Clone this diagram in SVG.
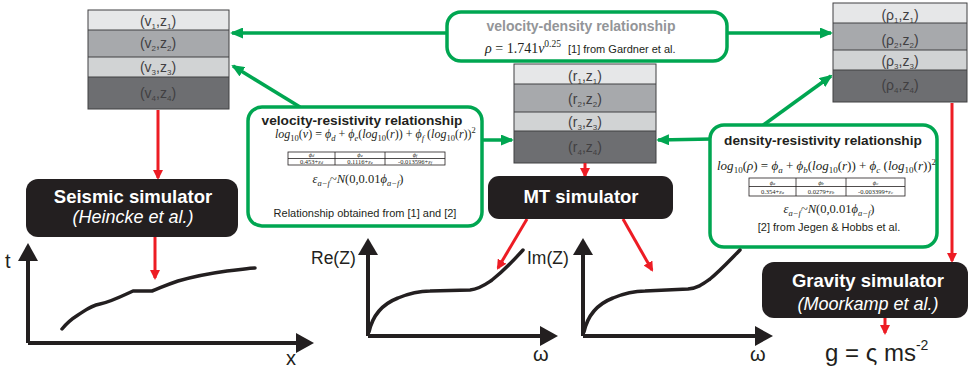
<svg xmlns="http://www.w3.org/2000/svg" width="969" height="370" viewBox="0 0 969 370">
<style>
.sans{font-family:"Liberation Sans",Arial,sans-serif}
.serif{font-family:"Liberation Serif","Times New Roman",serif}
.stk{font-family:"Liberation Sans",Arial,sans-serif;font-size:14px;fill:#414042;text-anchor:middle}
.l1{fill:#e6e7e8}.l2{fill:#a7a9ac}.l3{fill:#d1d3d4}.l4{fill:#6d6e71}
.sep{stroke:#414042;stroke-width:1;fill:none}
.gbox{fill:#fff;stroke:#00a651;stroke-width:3.5}
.sim{fill:#231f20}
.simt{font-family:"Liberation Sans",Arial,sans-serif;fill:#fff;text-anchor:middle}
.g{stroke:#00a651;stroke-width:3.5;fill:none;marker-end:url(#ga)}
.r{stroke:#ed1c24;stroke-width:3;fill:none;marker-end:url(#ra)}
.ax{stroke:#231f20;stroke-width:4;fill:none}
.cv{stroke:#231f20;stroke-width:3.5;fill:none;stroke-linecap:round;stroke-linejoin:round}
.tb{fill:#fff;stroke:#231f20;stroke-width:0.8}
.tt{font-family:"Liberation Serif","Times New Roman",serif;font-size:6.5px;text-anchor:middle;fill:#231f20}
.it{font-style:italic}
</style>
<defs>
<marker id="ga" markerUnits="userSpaceOnUse" markerWidth="13" markerHeight="11" refX="11" refY="5.5" orient="auto"><path d="M0,0 L13,5.5 L0,11 z" fill="#00a651"/></marker>
<marker id="ra" markerUnits="userSpaceOnUse" markerWidth="10" markerHeight="10" refX="8" refY="5" orient="auto"><path d="M0,0 L10,5 L0,10 z" fill="#ed1c24"/></marker>
</defs>

<g id="stack-v">
<rect class="l1" x="88" y="10" width="141" height="20"/>
<rect class="l2" x="88" y="30" width="141" height="27"/>
<rect class="l3" x="88" y="57" width="141" height="20"/>
<rect class="l4" x="88" y="77" width="141" height="32"/>
<rect class="sep" x="88" y="10" width="141" height="99"/>
<path class="sep" d="M88,30H229M88,57H229M88,77H229"/>
<text class="stk" x="158" y="26">(v<tspan font-size="8" dy="3">1</tspan><tspan dy="-3">,z</tspan><tspan font-size="8" dy="3">1</tspan><tspan dy="-3">)</tspan></text>
<text class="stk" x="158" y="48">(v<tspan font-size="8" dy="3">2</tspan><tspan dy="-3">,z</tspan><tspan font-size="8" dy="3">2</tspan><tspan dy="-3">)</tspan></text>
<text class="stk" x="158" y="72">(v<tspan font-size="8" dy="3">3</tspan><tspan dy="-3">,z</tspan><tspan font-size="8" dy="3">3</tspan><tspan dy="-3">)</tspan></text>
<text class="stk" x="158" y="98">(v<tspan font-size="8" dy="3">4</tspan><tspan dy="-3">,z</tspan><tspan font-size="8" dy="3">4</tspan><tspan dy="-3">)</tspan></text>
</g>

<g id="stack-r">
<rect class="l1" x="514" y="64" width="142" height="20"/>
<rect class="l2" x="514" y="84" width="142" height="28"/>
<rect class="l3" x="514" y="112" width="142" height="19"/>
<rect class="l4" x="514" y="131" width="142" height="32"/>
<rect class="sep" x="514" y="64" width="142" height="99"/>
<path class="sep" d="M514,84H656M514,112H656M514,131H656"/>
<text class="stk" x="585" y="81">(r<tspan font-size="8" dy="3">1</tspan><tspan dy="-3">,z</tspan><tspan font-size="8" dy="3">1</tspan><tspan dy="-3">)</tspan></text>
<text class="stk" x="585" y="104">(r<tspan font-size="8" dy="3">2</tspan><tspan dy="-3">,z</tspan><tspan font-size="8" dy="3">2</tspan><tspan dy="-3">)</tspan></text>
<text class="stk" x="585" y="127">(r<tspan font-size="8" dy="3">3</tspan><tspan dy="-3">,z</tspan><tspan font-size="8" dy="3">3</tspan><tspan dy="-3">)</tspan></text>
<text class="stk" x="585" y="152">(r<tspan font-size="8" dy="3">4</tspan><tspan dy="-3">,z</tspan><tspan font-size="8" dy="3">4</tspan><tspan dy="-3">)</tspan></text>
</g>

<g id="stack-rho">
<rect class="l1" x="833" y="3" width="134" height="20"/>
<rect class="l2" x="833" y="23" width="134" height="27"/>
<rect class="l3" x="833" y="50" width="134" height="20"/>
<rect class="l4" x="833" y="70" width="134" height="32"/>
<rect class="sep" x="833" y="3" width="134" height="99"/>
<path class="sep" d="M833,23H967M833,50H967M833,70H967"/>
<text class="stk" x="900" y="20">(ρ<tspan font-size="8" dy="3">1</tspan><tspan dy="-3">,z</tspan><tspan font-size="8" dy="3">1</tspan><tspan dy="-3">)</tspan></text>
<text class="stk" x="900" y="45">(ρ<tspan font-size="8" dy="3">2</tspan><tspan dy="-3">,z</tspan><tspan font-size="8" dy="3">2</tspan><tspan dy="-3">)</tspan></text>
<text class="stk" x="900" y="66">(ρ<tspan font-size="8" dy="3">3</tspan><tspan dy="-3">,z</tspan><tspan font-size="8" dy="3">3</tspan><tspan dy="-3">)</tspan></text>
<text class="stk" x="900" y="90">(ρ<tspan font-size="8" dy="3">4</tspan><tspan dy="-3">,z</tspan><tspan font-size="8" dy="3">4</tspan><tspan dy="-3">)</tspan></text>
</g>

<g id="connectors">
<line class="g" x1="447" y1="33" x2="232" y2="33"/>
<line class="g" x1="727" y1="33" x2="831" y2="33"/>
<line class="g" x1="300" y1="107" x2="233" y2="66"/>
<line class="g" x1="482" y1="140" x2="512" y2="140"/>
<line class="g" x1="712" y1="139" x2="658" y2="140"/>
<line class="g" x1="762" y1="126" x2="831" y2="76"/>
<line class="r" x1="158" y1="110" x2="158" y2="178"/>
<line class="r" x1="155" y1="237" x2="155" y2="278"/>
<line class="r" x1="585" y1="163" x2="585" y2="176"/>
<line class="r" x1="527" y1="219" x2="498" y2="268"/>
<line class="r" x1="623" y1="219" x2="652" y2="270"/>
<line class="r" x1="952" y1="103" x2="952" y2="261"/>
<line class="r" x1="885" y1="318" x2="885" y2="333"/>
</g>

<g id="vd-rel">
<rect class="gbox" x="447" y="12" width="280" height="49" rx="14"/>
<text class="sans" x="581" y="31" font-size="14" font-weight="bold" fill="#939598" text-anchor="middle">velocity-density relationship</text>
<text class="serif" x="485" y="53" font-size="14" fill="#231f20"><tspan class="it">ρ</tspan> = 1.741<tspan class="it">v</tspan><tspan font-size="9.5" dy="-6">0.25</tspan></text>
<text class="sans" x="568" y="53" font-size="11" fill="#231f20">[1] from Gardner et al.</text>
</g>

<g id="vr-rel">
<rect class="gbox" x="248" y="107" width="234" height="119" rx="14"/>
<text class="sans" x="362" y="125" font-size="13.7" font-weight="bold" fill="#231f20" text-anchor="middle">velocity-resistivity relationship</text>
<text class="serif" x="275" y="138" font-size="12" fill="#231f20"><tspan class="it">log</tspan><tspan font-size="8.5" dy="2.5">10</tspan><tspan dy="-2.5">(</tspan><tspan class="it">v</tspan>) = <tspan class="it">ϕ</tspan><tspan class="it" font-size="8.5" dy="2.5">d</tspan><tspan dy="-2.5"> + </tspan><tspan class="it">ϕ</tspan><tspan class="it" font-size="8.5" dy="2.5">e</tspan><tspan dy="-2.5">(</tspan><tspan class="it">log</tspan><tspan font-size="8.5" dy="2.5">10</tspan><tspan dy="-2.5">(</tspan><tspan class="it">r</tspan>)) + <tspan class="it">ϕ</tspan><tspan class="it" font-size="8.5" dy="2.5">f</tspan><tspan dy="-2.5"> (</tspan><tspan class="it">log</tspan><tspan font-size="8.5" dy="2.5">10</tspan><tspan dy="-2.5">(</tspan><tspan class="it">r</tspan>))<tspan font-size="8.5" dy="-5">2</tspan></text>
<rect class="tb" x="288" y="152" width="157" height="13"/>
<path class="tb" d="M288,158.5H445M335,152V165M385,152V165"/>
<text class="tt" x="311.5" y="157.3"><tspan class="it">ϕ<tspan font-size="4.5">d</tspan></tspan></text>
<text class="tt" x="360" y="157.3"><tspan class="it">ϕ<tspan font-size="4.5">e</tspan></tspan></text>
<text class="tt" x="415" y="157.3"><tspan class="it">ϕ<tspan font-size="4.5">f</tspan></tspan></text>
<text class="tt" x="311.5" y="163.5">0.453+<tspan class="it">ε<tspan font-size="4.5">d</tspan></tspan></text>
<text class="tt" x="360" y="163.5">0.1116+<tspan class="it">ε<tspan font-size="4.5">e</tspan></tspan></text>
<text class="tt" x="415" y="163.5">-0.013596+<tspan class="it">ε<tspan font-size="4.5">f</tspan></tspan></text>
<text class="serif" x="358" y="183" font-size="12.5" fill="#231f20" text-anchor="middle"><tspan class="it">ε</tspan><tspan class="it" font-size="8.5" dy="3">a−f</tspan><tspan dy="-3">~</tspan><tspan class="it">N</tspan>(0,0.01<tspan class="it">ϕ</tspan><tspan class="it" font-size="8.5" dy="3">a−f</tspan><tspan dy="-3">)</tspan></text>
<text class="sans" x="365" y="217" font-size="11" fill="#231f20" text-anchor="middle">Relationship obtained from [1] and [2]</text>
</g>

<g id="dr-rel">
<rect class="gbox" x="710" y="125" width="227" height="122" rx="14"/>
<text class="sans" x="823" y="145" font-size="13.7" font-weight="bold" fill="#231f20" text-anchor="middle">density-resistivity relationship</text>
<text class="serif" x="717" y="170" font-size="13" fill="#231f20"><tspan class="it">log</tspan><tspan font-size="9" dy="2.5">10</tspan><tspan dy="-2.5">(</tspan><tspan class="it">ρ</tspan>) = <tspan class="it">ϕ</tspan><tspan class="it" font-size="9" dy="2.5">a</tspan><tspan dy="-2.5"> + </tspan><tspan class="it">ϕ</tspan><tspan class="it" font-size="9" dy="2.5">b</tspan><tspan dy="-2.5">(</tspan><tspan class="it">log</tspan><tspan font-size="9" dy="2.5">10</tspan><tspan dy="-2.5">(</tspan><tspan class="it">r</tspan>)) + <tspan class="it">ϕ</tspan><tspan class="it" font-size="9" dy="2.5">c</tspan><tspan dy="-2.5"> (</tspan><tspan class="it">log</tspan><tspan font-size="9" dy="2.5">10</tspan><tspan dy="-2.5">(</tspan><tspan class="it">r</tspan>))<tspan font-size="9" dy="-5.5">2</tspan></text>
<rect class="tb" x="749" y="178" width="156" height="18"/>
<path class="tb" d="M749,186.5H905M796,178V196M846,178V196"/>
<text class="tt" x="772.5" y="184.5"><tspan class="it">ϕ<tspan font-size="4.5">a</tspan></tspan></text>
<text class="tt" x="821" y="184.5"><tspan class="it">ϕ<tspan font-size="4.5">b</tspan></tspan></text>
<text class="tt" x="875.5" y="184.5"><tspan class="it">ϕ<tspan font-size="4.5">c</tspan></tspan></text>
<text class="tt" x="772.5" y="193.5">0.354+<tspan class="it">ε<tspan font-size="4.5">a</tspan></tspan></text>
<text class="tt" x="821" y="193.5">0.0279+<tspan class="it">ε<tspan font-size="4.5">b</tspan></tspan></text>
<text class="tt" x="875.5" y="193.5">-0.003399+<tspan class="it">ε<tspan font-size="4.5">c</tspan></tspan></text>
<text class="serif" x="829" y="213" font-size="12.5" fill="#231f20" text-anchor="middle"><tspan class="it">ε</tspan><tspan class="it" font-size="8.5" dy="3">a−f</tspan><tspan dy="-3">~</tspan><tspan class="it">N</tspan>(0,0.01<tspan class="it">ϕ</tspan><tspan class="it" font-size="8.5" dy="3">a−f</tspan><tspan dy="-3">)</tspan></text>
<text class="sans" x="829" y="231" font-size="11" fill="#231f20" text-anchor="middle">[2] from Jegen &amp; Hobbs et al.</text>
</g>

<g id="seismic-sim">
<rect class="sim" x="26" y="179" width="212" height="58" rx="12"/>
<text class="simt" x="133" y="203" font-size="18.5" font-weight="bold">Seismic simulator</text>
<text class="simt" x="133" y="223" font-size="18" font-style="italic">(Heincke et al.)</text>
</g>

<g id="mt-sim">
<rect class="sim" x="488" y="176" width="185" height="43" rx="11"/>
<text class="simt" x="581" y="203" font-size="18.5" font-weight="bold">MT simulator</text>
</g>

<g id="gravity-sim">
<rect class="sim" x="762" y="262" width="206" height="56" rx="12"/>
<text class="simt" x="868" y="287" font-size="18.5" font-weight="bold">Gravity simulator</text>
<text class="simt" x="868" y="310" font-size="18" font-style="italic">(Moorkamp et al.)</text>
</g>

<g id="plot-seismic">
<path class="ax" d="M28,343V260M28,343H297"/>
<path d="M18,261L28,243L38,261z" fill="#231f20"/>
<path d="M296,333L314,343L296,353z" fill="#231f20"/>
<path class="cv" d="M62,329C66,324 70,320 78,315C86,310 90,306 100,304C110,302 118,298 133,291L152,291C160,288 166,285 178,281C192,277 205,274 227,271C240,270 248,268 255,268"/>
<text class="sans" x="5" y="268" font-size="20" fill="#231f20">t</text>
<text class="sans" x="286" y="365" font-size="20" fill="#231f20">x</text>
</g>

<g id="plot-re">
<path class="ax" d="M368,336V253M368,336H542"/>
<path d="M358,255L368,238L378,255z" fill="#231f20"/>
<path d="M540,326L558,336L540,346z" fill="#231f20"/>
<path class="cv" d="M369,332C372,318 380,305 398,298C410,293 418,291 430,291L470,290C480,289 486,284 492,280C502,272 514,260 523,250"/>
<text class="sans" x="311" y="264" font-size="17.5" fill="#231f20">Re(Z)</text>
<text class="sans" x="533" y="361" font-size="20" fill="#231f20">ω</text>
</g>

<g id="plot-im">
<path class="ax" d="M583,336V253M583,336H757"/>
<path d="M573,255L583,238L593,255z" fill="#231f20"/>
<path d="M755,326L773,336L755,346z" fill="#231f20"/>
<path class="cv" d="M584,332C587,318 595,305 613,298C625,293 633,291 645,291L688,289C698,288 703,284 710,279C720,271 732,258 740,250"/>
<text class="sans" x="527" y="264" font-size="17.5" fill="#231f20">Im(Z)</text>
<text class="sans" x="750" y="361" font-size="20" fill="#231f20">ω</text>
</g>

<g id="gravity-output">
<text class="sans" x="825" y="361" font-size="24" fill="#231f20">g = ς ms<tspan font-size="14" dy="-11">-2</tspan></text>
</g>
</svg>
